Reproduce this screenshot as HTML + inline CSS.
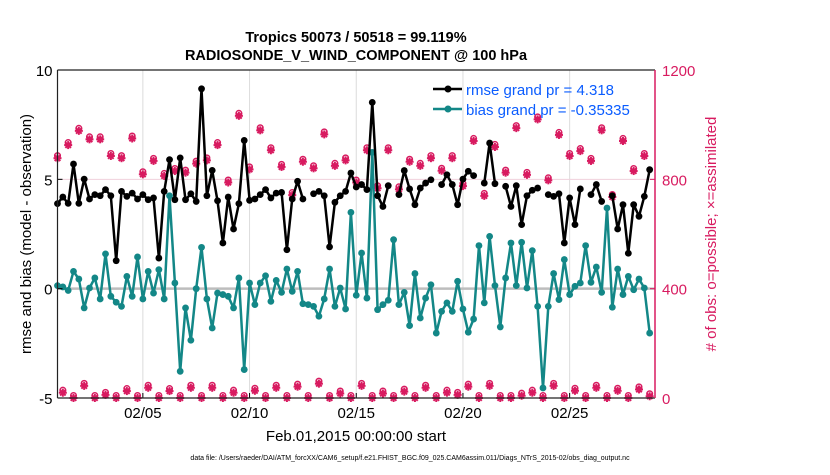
<!DOCTYPE html>
<html><head><meta charset="utf-8"><style>
body{margin:0;background:#fff;width:830px;height:470px;overflow:hidden;font-family:"Liberation Sans",Arial,sans-serif}
svg text{font-family:"Liberation Sans",Arial,sans-serif}
</style></head><body>
<svg id="chart" width="830" height="470" xmlns="http://www.w3.org/2000/svg">
<text x="356" y="42" text-anchor="middle" font-size="14.5" font-weight="bold">Tropics 50073 / 50518 = 99.119%</text>
<text x="356" y="60" text-anchor="middle" font-size="14.5" font-weight="bold">RADIOSONDE_V_WIND_COMPONENT @ 100 hPa</text>
<g id="grid"></g>
<g id="obs"></g>
<g id="series"></g>
<g id="axes"></g>
<text transform="translate(31,234) rotate(-90)" text-anchor="middle" font-size="15">rmse and bias (model - observation)</text>
<text transform="translate(716,234) rotate(-90)" text-anchor="middle" font-size="15" fill="#d81b60"># of obs: o=possible; ×=assimilated</text>
<text x="356" y="441" text-anchor="middle" font-size="15">Feb.01,2015 00:00:00 start</text>
<text x="410" y="460" text-anchor="middle" font-size="7">data file: /Users/raeder/DAI/ATM_forcXX/CAM6_setup/f.e21.FHIST_BGC.f09_025.CAM6assim.011/Diags_NTrS_2015-02/obs_diag_output.nc</text>
<g id="legend">
<line x1="433" y1="89" x2="462" y2="89" stroke="#000" stroke-width="2.5"/>
<circle cx="448" cy="89" r="3.5" fill="#000"/>
<text x="466" y="95" font-size="15" fill="#0a5cff">rmse grand pr = 4.318</text>
<line x1="433" y1="109" x2="462" y2="109" stroke="#138787" stroke-width="2.5"/>
<circle cx="448" cy="109" r="3.5" fill="#138787"/>
<text x="466" y="115" font-size="15" fill="#0a5cff">bias grand pr = -0.35335</text>
</g>
</svg>
<script>
const rmse=[3.89,4.19,3.9,5.70,3.9,5.01,4.10,4.3,4.25,4.53,4.25,1.28,4.45,4.22,4.37,4.10,4.30,4.07,4.15,1.40,4.45,5.90,4.07,5.98,4.07,4.34,3.99,9.14,4.25,
5.41,4.02,2.09,4.19,2.73,3.89,6.78,4.04,4.10,4.30,4.53,4.15,4.37,4.40,1.78,4.10,4.91,4.10,null,4.34,4.45,4.25,1.91,3.95,4.25,4.45,5.29,4.65,
4.76,4.53,8.52,4.25,3.76,4.71,null,4.30,5.40,4.56,3.84,4.60,4.83,4.98,null,4.76,5.21,4.76,3.84,5.01,5.37,5.17,null,4.83,6.66,4.80,null,4.68,
3.76,4.71,2.93,4.25,4.50,4.60,null,4.30,4.22,4.34,2.09,4.15,2.93,4.56,null,4.30,4.76,3.99,null,4.25,2.73,3.84,1.62,3.84,3.31,4.22,5.44];
const bias=[0.14,0.08,-0.08,0.79,0.44,-0.88,0.03,0.49,-0.47,1.59,-0.35,-0.62,-0.81,0.56,-0.35,1.45,-0.47,0.79,-0.20,0.87,-0.47,4.25,0.26,-3.78,-0.88,-2.36,0.0,1.89,-0.47,
-1.80,-0.20,-0.27,-0.35,-0.88,0.49,-3.70,0.26,-0.73,0.26,0.59,-0.58,0.38,-0.17,0.90,-0.12,0.79,-0.69,-0.73,-0.81,-1.26,-0.47,0.90,-0.81,0.03,-0.93,3.49,-0.30,
1.63,-0.43,6.23,-0.96,-0.73,-0.53,2.24,-0.73,-0.17,-1.69,0.69,-1.34,-0.43,0.18,-2.03,-1.04,-0.65,-1.04,0.34,-0.93,-1.99,-1.39,1.97,-0.65,2.39,0.14,-1.75,0.49,
2.09,0.14,2.12,0.03,1.74,-0.81,-4.54,-0.81,0.69,-0.50,1.33,-0.27,0.11,0.26,1.97,0.29,0.99,-0.17,3.69,-0.85,0.90,-0.27,0.56,-0.05,0.44,0.03,-2.03];
const obsHigh=[881,929,981,950,950,889,881,953,822,871,816,834,828,861,873,929,792,1036,840,983,910,849,746,868,844,968,853,873,792,910,771,910,767,868,853,881,835,881,779,944,743,922,828,991,820,1023,800,966,889,907,871,983,739,944,834,889];
const obsLow=[23,0,48,0,15,0,29,0,41,0,29,0,41,0,41,0,23,0,30,0,41,0,45,0,56,0,20,0,48,0,20,0,27,0,41,0,23,15,45,0,48,0,0,12,23,0,48,0,30,0,41,0,30,0,35,10];
const xTicks=[4,9,14,19,24];
const xTickLabels=["02/05","02/10","02/15","02/20","02/25"];
const yTicks=[-5,0,5,10];
const y2Ticks=[0,400,800,1200];

const X0=57.5,X1=655,Y0=70,Y1=398,D=28;
const sx=d=>X0+(d/D)*(X1-X0);
const sy=v=>Y1-(v+5)/15*(Y1-Y0);
const sy2=v=>Y1-v/1200*(Y1-Y0);
const NS="http://www.w3.org/2000/svg";
function mk(tag,attrs,parent){const e=document.createElementNS(NS,tag);for(const k in attrs)e.setAttribute(k,attrs[k]);parent.appendChild(e);return e;}
const grid=document.getElementById('grid'),axes=document.getElementById('axes'),series=document.getElementById('series'),obs=document.getElementById('obs');

xTicks.forEach((t,i)=>{
  const g=mk('line',{x1:sx(t),x2:sx(t),y1:Y0,y2:Y1,stroke:'#dcdcdc','stroke-width':1},grid);
  
  
  mk('line',{x1:sx(t),x2:sx(t),y1:Y1,y2:Y1-5,stroke:'#000'},axes);
  const tx=mk('text',{x:sx(t),y:Y1+20,'text-anchor':'middle','font-size':15},axes);
  tx.textContent=xTickLabels[i];
  
  
});
const pink=mk('line',{x1:X0,x2:X1,y1:sy(5),y2:sy(5),stroke:'#f0d0dc','stroke-width':1},grid);


const zl=mk('line',{x1:X0,x2:X1,y1:sy(0),y2:sy(0),stroke:'#bdbdbd','stroke-width':2.5},grid);



yTicks.forEach(t=>{
  mk('line',{x1:X0,x2:X0+5,y1:sy(t),y2:sy(t),stroke:'#000'},axes);
  const tx=mk('text',{x:X0-5,y:sy(t)+6,'text-anchor':'end','font-size':15},axes);
  tx.textContent=t;
  
  
});
y2Ticks.forEach(t=>{
  mk('line',{x1:X1,x2:X1-5,y1:sy2(t),y2:sy2(t),stroke:'#d81b60'},axes);
  const tx=mk('text',{x:X1+7,y:sy2(t)+6,'text-anchor':'start','font-size':15,fill:'#d81b60'},axes);
  tx.textContent=t;
  
  
});
mk('line',{x1:X0,x2:X1,y1:Y0,y2:Y0,stroke:'#222','stroke-width':1.2},axes);
mk('line',{x1:X0,x2:X1,y1:Y1,y2:Y1,stroke:'#222','stroke-width':1.2},axes);
mk('line',{x1:X0,x2:X0,y1:Y0,y2:Y1,stroke:'#222','stroke-width':1.2},axes);
mk('line',{x1:X1,x2:X1,y1:Y0,y2:Y1,stroke:'#d81b60','stroke-width':1.5},axes);

function obsMarker(cx,cy){
  const g=mk('g',{},obs);
  
  
  const c='#d81b60';
  mk('circle',{cx:cx,cy:cy-1.5,r:2.8,fill:'none',stroke:c,'stroke-width':1.5},g);
  mk('line',{x1:cx-4,x2:cx+4,y1:cy+1,y2:cy+1,stroke:c,'stroke-width':2},g);
  mk('line',{x1:cx,x2:cx,y1:cy-3,y2:cy+5,stroke:c,'stroke-width':2},g);
  mk('line',{x1:cx-2.8,x2:cx+2.8,y1:cy-1.8,y2:cy+3.8,stroke:c,'stroke-width':2},g);
  mk('line',{x1:cx-2.8,x2:cx+2.8,y1:cy+3.8,y2:cy-1.8,stroke:c,'stroke-width':2},g);
}
obsHigh.forEach((v,k)=>obsMarker(sx(k*0.5),sy2(v)));
obsLow.forEach((v,k)=>obsMarker(sx(k*0.5+0.25),Math.min(sy2(v),Y1-1)));

function drawSeries(vals,color,name){
  let d='',pen=false;
  vals.forEach((v,i)=>{
    if(v===null){pen=false;return;}
    d+=(pen?'L':'M')+sx(i*0.25).toFixed(1)+' '+sy(v).toFixed(1)+' ';pen=true;
  });
  const p=mk('path',{d:d,fill:'none',stroke:color,'stroke-width':2.5,'stroke-linejoin':'round'},series);
  
  
  vals.forEach((v,i)=>{
    if(v===null)return;
    const c=mk('circle',{cx:sx(i*0.25),cy:sy(v),r:3.4,fill:color},series);
    
    
  });
}
drawSeries(bias,'#138787','bias');
drawSeries(rmse,'#000000','rmse');
</script>
</body></html>
